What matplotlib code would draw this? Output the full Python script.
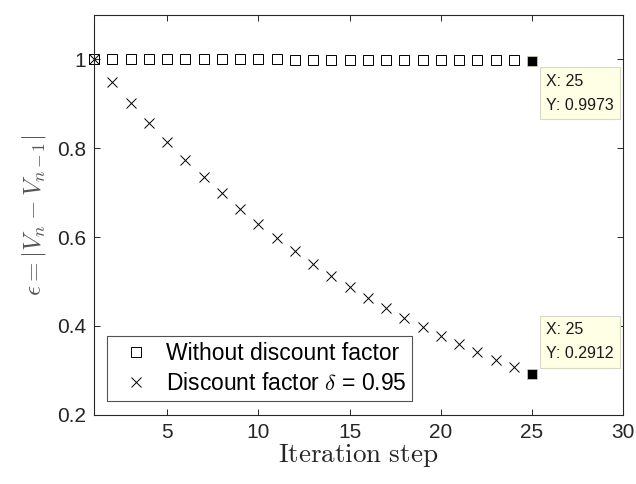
import matplotlib
matplotlib.use('Agg')
import matplotlib.pyplot as plt

plt.rcParams['font.family'] = ['Liberation Sans', 'DejaVu Sans']
plt.rcParams['mathtext.fontset'] = 'cm'

# iteration steps and convergence error for both runs
steps = list(range(1, 26))
no_discount = [1.0, 1.0, 1.0, 1.0, 1.0, 1.0, 1.0, 1.0, 0.9999, 0.9999,
               0.9999, 0.9998, 0.9998, 0.9997, 0.9996, 0.9995, 0.9994, 0.9993, 0.9991, 0.9990,
               0.9988, 0.9985, 0.9982, 0.9978, 0.9973]
discount = [1.0, 0.95, 0.9025, 0.8570, 0.8145, 0.7738, 0.7351, 0.6983, 0.6634, 0.6302,
            0.5987, 0.5688, 0.5404, 0.5133, 0.4877, 0.4633, 0.4401, 0.4181, 0.3972, 0.3774,
            0.3585, 0.3406, 0.3235, 0.3074, 0.2912]
xticks = [5, 10, 15, 20, 25, 30]
yticks = [0.2, 0.4, 0.6, 0.8, 1.0]
ytick_labels = ['0.2', '0.4', '0.6', '0.8', '1']

axis_col = '#262626'

fig = plt.figure(figsize=(6.36, 4.84), dpi=100)
ax = fig.add_axes([0.148, 0.143, 0.832, 0.826])

ax.plot(steps[:-1], no_discount[:-1], linestyle='none', marker='s', markersize=6.5,
        markerfacecolor='none', markeredgecolor='black', markeredgewidth=0.7,
        label='Without discount factor', clip_on=False)
ax.plot(steps[:-1], discount[:-1], linestyle='none', marker='x', markersize=7.5,
        color='black', markeredgewidth=0.7,
        label=r'Discount factor $\delta$ = 0.95', clip_on=False)

# data tips on the last step: upper one hangs below, lower one sits above
tips = [(no_discount[-1], -13, 'top'), (discount[-1], 13, 'bottom')]
for val, dy, va in tips:
    ax.plot(steps[-1], val, marker='s', markersize=7, color='black',
            markeredgecolor='#d8d8a0', markeredgewidth=0.5, clip_on=False, zorder=5)
    ax.annotate('X: %d\nY: %.4f' % (steps[-1], val), xy=(steps[-1], val),
                xytext=(14, dy), textcoords='offset pixels', ha='left', va=va,
                fontsize=11.5, color='#1a1a1a', linespacing=1.75,
                bbox=dict(boxstyle='square,pad=0.4', facecolor='#ffffe6',
                          edgecolor='#d9d9c8', linewidth=0.8), zorder=6)

ax.set_xlim(1, 30)
ax.set_ylim(0.2, 1.1)
ax.set_xticks(xticks)
ax.set_yticks(yticks)
ax.set_yticklabels(ytick_labels)
ax.tick_params(direction='in', top=True, right=True, length=4, width=0.7,
               labelsize=15, colors=axis_col, pad=6)
for s in ax.spines.values():
    s.set_color(axis_col)
    s.set_linewidth(0.8)

ax.set_xlabel(r'$\mathrm{Iteration\ step}$', fontsize=19.5, color=axis_col, labelpad=0)
ax.set_ylabel(r'$\epsilon = |V_n - V_{n-1}|$', fontsize=18, color='#555555', labelpad=6)

leg = ax.legend(loc='lower left', bbox_to_anchor=(0.025, 0.035), fontsize=16.5,
                frameon=True, fancybox=False, edgecolor=axis_col, borderpad=0.25,
                handletextpad=0.3, labelspacing=0.3, handlelength=2.0,
                borderaxespad=0.0)
leg.get_frame().set_linewidth(0.8)

fig.savefig('out.png', dpi=100)
